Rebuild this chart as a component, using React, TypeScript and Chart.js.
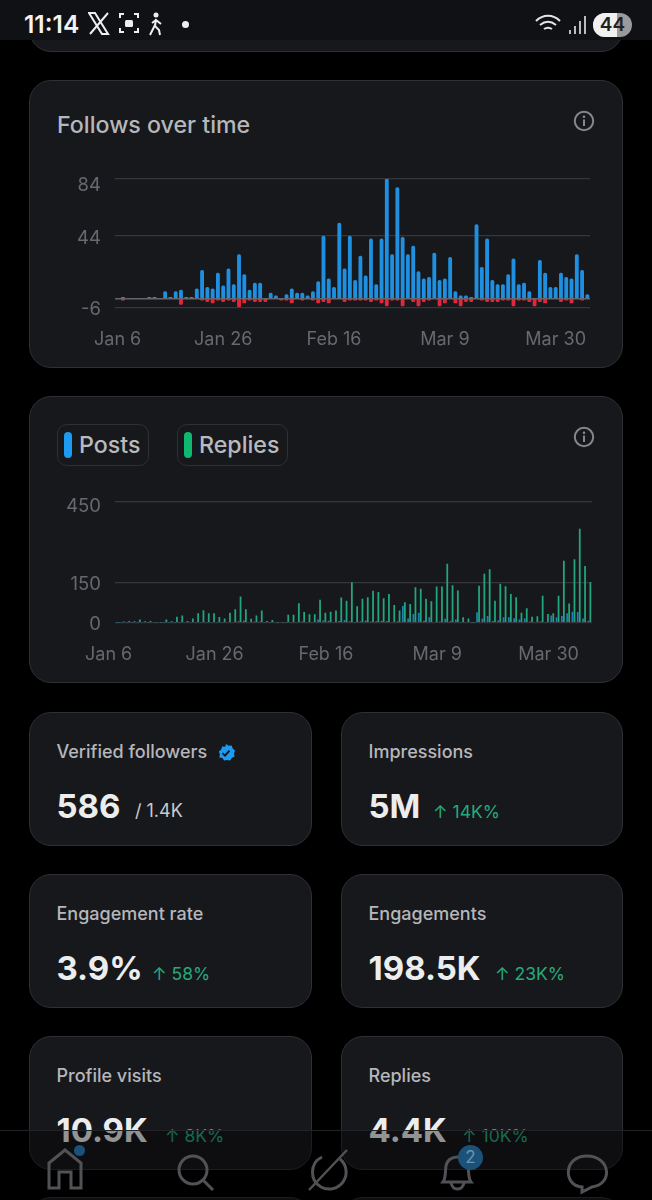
import { useEffect, useRef } from "react";
import Chart from "chart.js/auto";

const days = [
  "Jan 6", "Jan 7", "Jan 8", "Jan 9", "Jan 10", "Jan 11", "Jan 12", "Jan 13", "Jan 14", "Jan 15",
  "Jan 16", "Jan 17", "Jan 18", "Jan 19", "Jan 20", "Jan 21", "Jan 22", "Jan 23", "Jan 24", "Jan 25",
  "Jan 26", "Jan 27", "Jan 28", "Jan 29", "Jan 30", "Jan 31", "Feb 1", "Feb 2", "Feb 3", "Feb 4",
  "Feb 5", "Feb 6", "Feb 7", "Feb 8", "Feb 9", "Feb 10", "Feb 11", "Feb 12", "Feb 13", "Feb 14",
  "Feb 15", "Feb 16", "Feb 17", "Feb 18", "Feb 19", "Feb 20", "Feb 21", "Feb 22", "Feb 23", "Feb 24",
  "Feb 25", "Feb 26", "Feb 27", "Feb 28", "Mar 1", "Mar 2", "Mar 3", "Mar 4", "Mar 5", "Mar 6",
  "Mar 7", "Mar 8", "Mar 9", "Mar 10", "Mar 11", "Mar 12", "Mar 13", "Mar 14", "Mar 15", "Mar 16",
  "Mar 17", "Mar 18", "Mar 19", "Mar 20", "Mar 21", "Mar 22", "Mar 23", "Mar 24", "Mar 25", "Mar 26",
  "Mar 27", "Mar 28", "Mar 29", "Mar 30", "Mar 31", "Apr 1", "Apr 2", "Apr 3", "Apr 4", "Apr 5",
];
const shownDays = ["Jan 6", "Jan 26", "Feb 16", "Mar 9", "Mar 30"];

const followsGained = [
  0, 1, 0, 0, 0, 0, 1, 1, 0, 5, 1, 5, 6, 1, 1, 7, 20, 8, 7, 18, 9, 21, 10, 31, 17, 6, 11, 11, 0, 4,
  2, 0, 3, 7, 4, 4, 2, 5, 12, 44, 14, 8, 53, 21, 44, 13, 30, 16, 42, 10, 42, 84, 31, 78, 43, 31, 37, 19, 14, 15,
  32, 13, 14, 29, 5, 2, 2, 1, 52, 22, 42, 13, 10, 10, 17, 28, 10, 11, 5, 0, 27, 18, 8, 8, 18, 15, 14, 31, 20, 3,
];
const followsLost = [
  0, -1, 0, 0, 0, 0, 0, 0, 0, 0, 0, 0, -4, 0, 0, 0, -1, -2, -3, -1, -2, -1, -2, -6, -3, -1, -2, -2, -2, 0,
  0, -1, -1, -3, 0, -1, 0, -1, -3, -2, -3, 0, 0, -2, -1, -1, -1, -1, -2, -1, -3, -5, -1, -1, -5, 0, -2, -5, -2, -1,
  0, -5, -3, 0, -3, -5, -2, -2, 0, -1, -2, -2, -2, -1, -1, -5, -1, -1, -2, -5, -2, -3, 0, 0, -2, -1, -3, 0, -1, 0,
];
const followTicks = [-6, 44, 84];

const posts = [
  1, 1, 1, 1, 1, 0, 1, 0, 0, 1, 1, 1, 1, 0, 2, 2, 2, 2, 2, 2, 2, 3, 3, 5, 8, 3, 4, 4, 2, 1,
  0, 0, 1, 2, 3, 4, 3, 3, 12, 8, 7, 3, 6, 10, 5, 2, 5, 8, 4, 5, 7, 6, 3, 5, 62, 16, 32, 37, 7, 20,
  3, 4, 15, 6, 12, 2, 0, 1, 39, 15, 25, 6, 8, 20, 20, 17, 12, 16, 4, 3, 5, 2, 27, 20, 25, 35, 41, 40, 16, 7,
];
const replies = [
  1, 4, 6, 5, 12, 5, 6, 1, 1, 12, 5, 22, 27, 6, 16, 35, 46, 35, 35, 21, 16, 37, 50, 97, 50, 15, 27, 45, 6, 10,
  1, 1, 30, 30, 72, 40, 31, 31, 85, 37, 41, 45, 94, 82, 150, 61, 89, 95, 119, 114, 91, 107, 66, 45, 76, 70, 132, 126, 89, 80,
  135, 135, 219, 139, 120, 20, 16, 1, 137, 182, 199, 82, 145, 136, 107, 95, 37, 54, 22, 24, 100, 32, 35, 100, 230, 71, 236, 349, 211, 150,
];
const activityTicks = [0, 150, 450];

const TICK_COLOR = "#66696e";
const FONT = "Inter, Roboto, sans-serif";

const skipZero = (list: number[]) => list.map((v) => (v === 0 ? null : v));

// y labels sit a little under their grid lines in the app, the top one most
const nudgeLabels = (top: number) => ({
  id: "nudgeLabels",
  afterUpdate(chart: any) {
    const items = chart.scales.y.getLabelItems();
    items.forEach((item: any, i: number) => {
      const [x, y] = item.options.translation;
      item.options.translation = [x, y + (i === items.length - 1 ? top : 2)];
    });
  },
});

// grey line over the foot of the bars
const zeroLine = {
  id: "zeroLine",
  afterDatasetsDraw(chart: any) {
    const { ctx, chartArea } = chart;
    const y = chart.scales.y.getPixelForValue(0);
    ctx.save();
    ctx.strokeStyle = "#63666c";
    ctx.lineWidth = 1.4;
    ctx.beginPath();
    ctx.moveTo(chartArea.left, y);
    ctx.lineTo(chartArea.right, y);
    ctx.stroke();
    ctx.restore();
  },
};

function buildOptions(min: number, max: number, yTicks: number[], bottom: number, labelOffset: number, top: number, right: number) {
  return {
    responsive: false,
    animation: false,
    events: [],
    layout: { padding: { top, right, left: 0, bottom: 0 } },
    plugins: { legend: { display: false }, tooltip: { enabled: false } },
    scales: {
      x: {
        grid: { display: false },
        border: { display: false },
        afterFit: (s: any) => { s.height = bottom; },
        ticks: {
          autoSkip: false,
          maxRotation: 0,
          padding: 13,
          labelOffset,
          color: TICK_COLOR,
          font: { family: FONT, size: 18 },
          callback(this: any, v: any) {
            const l = this.getLabelForValue(v);
            return shownDays.includes(l) ? l : "";
          },
        },
      },
      y: {
        min,
        max,
        afterBuildTicks: (s: any) => { s.ticks = yTicks.map((value) => ({ value })); },
        afterFit: (s: any) => { s.width = 86; },
        grid: { drawTicks: false, lineWidth: 1.2, color: "#35373c" },
        border: { display: false },
        ticks: { padding: 14, color: TICK_COLOR, font: { family: FONT, size: 18.5 } },
      },
    },
  };
}

function FollowsChart() {
  const ref = useRef<HTMLCanvasElement>(null);
  useEffect(() => {
    const options: any = buildOptions(-6, 84, followTicks, 60.7, 0, 99, 33);
    options.scales.x.stacked = true;
    options.scales.y.stacked = true;
    const chart = new Chart(ref.current!, {
      type: "bar",
      data: {
        labels: days,
        datasets: [
          { label: "Gained", data: skipZero(followsGained), backgroundColor: "#1f8fe0", barThickness: 3.2, borderRadius: 1.6, borderSkipped: false },
          { label: "Lost", data: skipZero(followsLost), backgroundColor: "#e3263b", barThickness: 3.2, borderRadius: 1.2, borderSkipped: false },
        ],
      },
      options,
      plugins: [nudgeLabels(6), zeroLine],
    });
    return () => chart.destroy();
  }, []);
  return <canvas ref={ref} width={594} height={288} style={{ position: "absolute", left: 29, top: 80, display: "block" }} />;
}

function ActivityChart() {
  const ref = useRef<HTMLCanvasElement>(null);
  useEffect(() => {
    const options: any = buildOptions(0, 450, activityTicks, 60.3, -9, 105.7, 31);
    const chart = new Chart(ref.current!, {
      type: "bar",
      data: {
        labels: days,
        datasets: [
          { label: "Posts", data: skipZero(posts), backgroundColor: "#1e7fb8", categoryPercentage: 0.76, barPercentage: 0.88 },
          { label: "Replies", data: skipZero(replies), backgroundColor: "#22a67c", categoryPercentage: 0.76, barPercentage: 0.88 },
        ],
      },
      options,
      plugins: [nudgeLabels(5)],
    });
    return () => chart.destroy();
  }, []);
  return <canvas ref={ref} width={594} height={287} style={{ position: "absolute", left: 29, top: 396, display: "block" }} />;
}

const box = (x: number, y: number, w: number, h: number, r = 22): React.CSSProperties => ({
  position: "absolute", left: x, top: y, width: w, height: h, boxSizing: "border-box",
  background: "#17181c", border: "1.5px solid #2e3035", borderRadius: r,
});

function Text({ x, y, size, color, weight = 400, children }: any) {
  // y is the vertical centre of the line
  return (
    <div style={{ position: "absolute", left: x, top: y - 20, height: 40, lineHeight: "40px", fontSize: size, color, fontWeight: weight, whiteSpace: "nowrap" }}>
      {children}
    </div>
  );
}

function Info({ y }: { y: number }) {
  return (
    <svg width="24" height="24" viewBox="0 0 24 24" style={{ position: "absolute", left: 572, top: y - 12 }}>
      <circle cx="12" cy="12" r="9.2" fill="none" stroke="#85878c" strokeWidth="2" />
      <rect x="11" y="10.5" width="2" height="6.5" fill="#85878c" />
      <circle cx="12" cy="7.8" r="1.3" fill="#85878c" />
    </svg>
  );
}

function Stat({ x, y, w, label, value, deltaX, delta, sub, badge }: any) {
  return (
    <>
      <div style={box(x, y, w, 134)} />
      <Text x={x + 27.5} y={y + 40} size={18} color="#b5b7bb" weight={500}>{label}</Text>
      <Text x={x + 27.5} y={y + 94} size={33} color="#eceded" weight={700}>{value}</Text>
      {delta && <Text x={deltaX} y={y + 100} size={17.5} color="#27a97b">{"\u2191 " + delta}</Text>}
      {sub && <Text x={deltaX} y={y + 99} size={18} color="#c9cacd">{sub}</Text>}
      {badge && (
        <svg width="20" height="20" viewBox="0 0 20 20" style={{ position: "absolute", left: 216, top: y + 31 }}>
          <path d="M10 1l2.6 1.7 3.1-.1 1 3 2.3 2-1 3 .6 3-2.8 1.4-1.7 2.6-3-.7-3 .7-1.7-2.6L3.3 14.6l.6-3-1-3 2.3-2 1-3 3.1.1z" fill="#1d9bf0" />
          <path d="M6.5 10.2l2.5 2.5 4.5-5" fill="none" stroke="#10151c" strokeWidth="1.8" />
        </svg>
      )}
    </>
  );
}

function Pill({ x, w, color, label }: any) {
  return (
    <>
      <div style={box(x, 424, w, 42, 10)} />
      <div style={{ position: "absolute", left: x + 7, top: 432, width: 8, height: 26, borderRadius: 4, background: color }} />
      <Text x={x + 22} y={445} size={23.2} color="#b8babe" weight={500}>{label}</Text>
    </>
  );
}

function StatusBar() {
  return (
    <div style={{ position: "absolute", left: 0, top: 0, width: 652, height: 40, background: "#101115" }}>
      <Text x={24} y={24} size={24.5} color="#f2f2f2" weight={600}>11:14</Text>
      <svg width="90" height="26" viewBox="0 0 90 26" style={{ position: "absolute", left: 88, top: 11 }} fill="none" stroke="#eee" strokeWidth="2">
        <path d="M1 2l13 21h6L7 2zM20 2L2 23" />
        <path d="M32 7V3h4M46 3h4v4M32 17v4h4M46 21h4v-4" />
        <rect x="37" y="9" width="8" height="7" rx="1.5" fill="#eee" stroke="none" />
        <circle cx="68" cy="4" r="2.5" fill="#eee" stroke="none" />
        <path d="M68 8l-1 7 4 4 1 5M67 14l-5 10M64 12l4-3 5 4" />
      </svg>
      <div style={{ position: "absolute", left: 182, top: 21, width: 7, height: 7, borderRadius: 4, background: "#eee" }} />
      <svg width="52" height="26" viewBox="0 0 52 26" style={{ position: "absolute", left: 535, top: 12 }} fill="none" stroke="#e6e6e6" strokeWidth="2">
        <path d="M1 9c7-7 17-7 24 0M5 13c5-4 11-4 16 0M9 17c3-2 5-2 8 0" />
        <path d="M35 18v4M40 14v8M45 9v13M50 4v18" strokeWidth="1.6" />
      </svg>
      <div style={{ position: "absolute", left: 593, top: 13, width: 39, height: 24, borderRadius: 12, overflow: "hidden", background: "#9a9a9a" }}>
        <div style={{ width: 24, height: 24, background: "#f0f0f0" }} />
        <div style={{ position: "absolute", left: 0, top: 0, width: 39, textAlign: "center", lineHeight: "24px", fontSize: 19, fontWeight: 600, color: "#222" }}>44</div>
      </div>
    </div>
  );
}

function BottomNav() {
  return (
    <div style={{ position: "absolute", left: 0, top: 1130, width: 652, height: 70, background: "rgba(0,0,0,0.38)", borderTop: "1px solid #222328", boxSizing: "border-box" }}>
      <svg width="652" height="70" viewBox="0 1130 652 70" style={{ position: "absolute", left: 0, top: -1 }} fill="none" stroke="#515256" strokeWidth="3">
        <path d="M49 1188v-25l16-13 16 13v25h-10v-16h-12v16z" />
        <circle cx="193" cy="1170" r="14" />
        <path d="M203 1180l10 10" />
        <path d="M340 1159a17 17 0 0 1-19 28a17 17 0 0 1 1-30" />
        <path d="M309 1190l38-40" strokeWidth="2.5" />
        <path d="M443 1182c3-4 2-10 3-16c2-12 20-12 22 0c1 6 0 12 3 16zM451 1183c2 8 11 8 13 0" />
        <path d="M587 1156c-24 0-24 30-5 31v5l10-5c22-3 18-31-5-31z" />
      </svg>
      <div style={{ position: "absolute", left: 74, top: 14, width: 11, height: 11, borderRadius: 6, background: "#1b527a" }} />
      <div style={{ position: "absolute", left: 458, top: 14, width: 25, height: 25, borderRadius: 13, background: "#1b527a", color: "#6f93ad", textAlign: "center", lineHeight: "25px", fontSize: 17 }}>2</div>
    </div>
  );
}

export default function App() {
  return (
    <div style={{ position: "fixed", left: 0, top: 0, width: 652, height: 1200, background: "#000", overflow: "hidden", fontFamily: FONT }}>
      <div style={box(29, -40, 594, 92)} />
      <div style={box(29, 80, 594, 288)} />
      <Text x={57} y={125} size={23.2} color="#b5b7bb" weight={500}>Follows over time</Text>
      <Info y={121} />
      <FollowsChart />

      <div style={box(29, 396, 594, 287)} />
      <Pill x={57} w={92} color="#1d9bf0" label="Posts" />
      <Pill x={177} w={111} color="#0fb870" label="Replies" />
      <Info y={437} />
      <ActivityChart />

      <Stat x={29} y={712} w={283} label="Verified followers" value="586" deltaX={135} sub="/ 1.4K" badge />
      <Stat x={341} y={712} w={282} label="Impressions" value="5M" deltaX={433} delta="14K%" />
      <Stat x={29} y={874} w={283} label="Engagement rate" value="3.9%" deltaX={152} delta="58%" />
      <Stat x={341} y={874} w={282} label="Engagements" value="198.5K" deltaX={495} delta="23K%" />
      <Stat x={29} y={1036} w={283} label="Profile visits" value="10.9K" deltaX={165} delta="8K%" />
      <Stat x={341} y={1036} w={282} label="Replies" value="4.4K" deltaX={462} delta="10K%" />
      <div style={box(29, 1197, 283, 60)} />
      <div style={box(341, 1197, 282, 60)} />

      <StatusBar />
      <BottomNav />
    </div>
  );
}
